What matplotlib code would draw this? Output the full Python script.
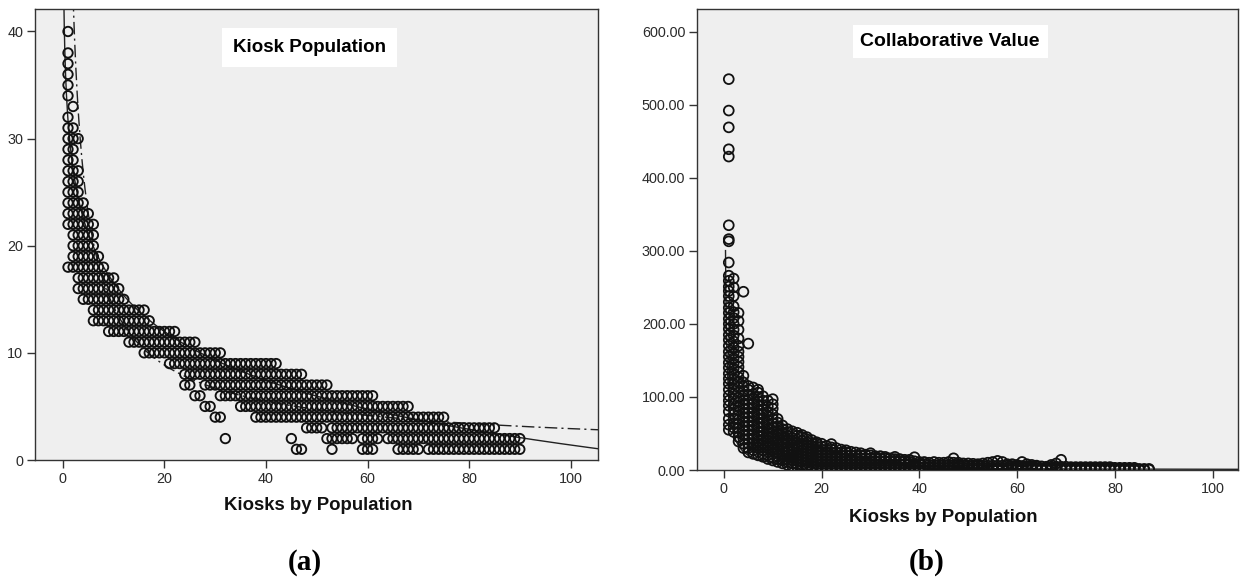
import numpy as np
import matplotlib
matplotlib.use("Agg")
import matplotlib.pyplot as plt
from matplotlib.ticker import FixedLocator, FuncFormatter

# ---------------- Data ----------------
# Panel (a): Kiosk Population (integer y) vs Kiosks by Population (integer x).
# Each row value lists runs of consecutive integer x positions that carry a point.
kp_row_y = [40, 38, 37, 36, 35, 34, 33, 32, 31, 30, 29, 28, 27, 26, 25, 24, 23, 22,
            21, 20, 19, 18, 17, 16, 15, 14, 13, 12, 11, 10, 9, 8, 7, 6, 5, 4, 3, 2, 1]
kp_row_runs = [
    [(1, 1)], [(1, 1)], [(1, 1)], [(1, 1)], [(1, 1)], [(1, 1)], [(2, 2)], [(1, 1)],
    [(1, 2)], [(1, 3)], [(1, 2)], [(1, 2)], [(1, 3)], [(1, 3)], [(1, 3)], [(1, 4)],
    [(1, 5)], [(1, 6)], [(2, 6)], [(2, 6)], [(2, 7)], [(1, 8)], [(3, 10)], [(3, 11)],
    [(4, 12)], [(6, 16)], [(6, 17)], [(9, 22)], [(13, 26)], [(16, 31)], [(21, 42)],
    [(24, 47)],
    [(24, 25), (28, 52)],
    [(26, 27), (31, 61)],
    [(28, 29), (35, 68)],
    [(30, 31), (38, 75)],
    [(48, 51), (53, 85)],
    [(32, 32), (45, 45), (52, 57), (59, 62), (64, 90)],
    [(46, 47), (53, 53), (59, 61), (66, 70), (72, 90)],
]
# Fit curves of panel (a): logarithmic (solid) and power (dash-dot)
kp_log_fit = (31.7, -6.58)      # y = a + b*ln(x)
kp_pow_fit = (69.6, -0.688)     # y = a * x**b

# Panel (b): Collaborative Value, one list of values per x = 1..87
cv_x = list(range(1, 88))
cv_cols = [
    [55, 62, 70, 80, 88, 95, 102, 110, 118, 125, 132, 140, 147, 155, 162, 170, 178, 185, 193,
     200, 207, 215, 222, 230, 238, 245, 251, 259, 266, 284, 313, 316, 335, 429, 439, 469, 492, 535],
    [52, 58, 64, 70, 76, 83, 90, 97, 104, 111, 118, 125, 132, 139, 146, 153, 160, 168, 176,
     184, 192, 200, 208, 216, 224, 238, 250, 262],
    [39, 45, 51, 57, 63, 69, 75, 81, 87, 93, 99, 106, 113, 120, 127, 134, 141, 148, 155, 162,
     170, 180, 192, 204, 215],
    [30, 36, 42, 48, 54, 60, 66, 72, 78, 84, 90, 96, 102, 108, 114, 120, 129, 244],
    [24, 30, 36, 42, 48, 54, 60, 66, 72, 78, 84, 90, 96, 103, 110, 115, 173],
    [22, 27, 32, 37, 43, 49, 55, 61, 67, 73, 79, 85, 91, 97, 104, 113],
    [20, 25, 30, 35, 40, 46, 52, 58, 64, 70, 76, 82, 88, 94, 100, 106, 110],
    [18, 22, 27, 32, 37, 42, 47, 53, 59, 65, 71, 77, 83, 89, 95, 101],
    [15, 20, 25, 30, 35, 40, 45, 50, 56, 62, 68, 74, 80, 87, 95],
    [13, 17, 22, 27, 32, 37, 42, 47, 52, 58, 64, 70, 76, 84, 90, 97],
    [11, 15, 19, 24, 29, 34, 39, 44, 49, 54, 60, 65, 70],
    [9, 13, 17, 21, 26, 31, 36, 41, 46, 51, 56, 61],
    [7, 11, 15, 19, 23, 27, 32, 37, 42, 47, 52, 56],
    [5, 9, 13, 17, 21, 25, 29, 34, 39, 44, 49, 53],
    [4, 8, 12, 16, 20, 24, 28, 32, 37, 42, 47, 51],
    [3, 7, 11, 15, 19, 23, 27, 31, 35, 40, 45, 48],
    [2, 6, 10, 14, 18, 22, 26, 30, 34, 38, 42, 45],
    [1, 5, 9, 13, 17, 21, 25, 29, 33, 37, 41],
    [0.5, 4, 8, 12, 16, 20, 24, 28, 32, 36, 38],
    [0.5, 4, 8, 12, 16, 20, 24, 28, 32, 36],
    [0.5, 4, 8, 12, 16, 20, 24, 28, 33],
    [0.5, 4, 8, 12, 16, 20, 24, 28, 31, 35.5],
    [0.5, 4, 8, 12, 16, 20, 24, 30],
    [0.5, 4, 8, 12, 16, 20, 24, 28],
    [0.5, 4, 8, 12, 16, 20, 24, 27],
    [0.5, 4, 8, 12, 16, 20, 25],
    [0.5, 4, 8, 12, 16, 20, 24],
    [0.5, 4, 8, 12, 16, 20, 23],
    [0.5, 4, 8, 12, 16, 21],
    [0.5, 4, 8, 12, 16, 20, 23],
    [0.5, 4, 8, 12, 16, 19],
    [0.5, 4, 8, 12, 16, 19],
    [0.5, 4, 8, 12, 16, 18],
    [0.5, 4, 8, 12, 16],
    [0.5, 4, 8, 12, 15, 18],
    [0.5, 4, 8, 12, 15],
    [0.5, 4, 8, 12, 14],
    [0.5, 4, 8, 11, 14],
    [0.5, 4, 8, 12, 17.5],
    [0.5, 4, 8, 11],
    [0.5, 4, 8, 11],
    [0.5, 4, 7, 10],
    [0.5, 3.5, 7, 11],
    [0.5, 3.5, 7, 10],
    [0.5, 3.5, 7, 10],
    [0.5, 3.5, 7, 11],
    [0.5, 3.5, 7, 10, 16],
    [0.5, 3.5, 7, 10],
    [0.5, 3.5, 6.5, 9],
    [0.5, 3, 6, 9],
    [0.5, 3, 6, 8.5],
    [0.5, 3, 6, 8],
    [0.5, 3, 6, 9],
    [0.5, 3, 6, 10],
    [0.5, 3, 6, 11],
    [0.5, 3, 6, 12.5],
    [0.5, 3, 6, 11],
    [0.5, 3, 6, 8],
    [0.5, 3, 5.5, 8],
    [0.5, 3, 5.5, 7],
    [0.5, 3, 5.5, 11],
    [0.5, 3, 5, 8],
    [0.5, 2.5, 5, 7],
    [0.5, 2.5, 5, 6],
    [0.5, 2.5, 5],
    [0.5, 2.5, 4.5],
    [0.5, 2.5, 4.5, 7],
    [0.5, 2.5, 4.5, 9],
    [0.5, 2.5, 4.5, 14],
    [0.5, 2.5, 4.5],
    [0.5, 2, 4], [0.5, 2, 4], [0.5, 2, 4], [0.5, 2, 4], [0.5, 2, 4],
    [0.5, 2, 4], [0.5, 2, 4], [0.5, 2, 4], [0.5, 2, 4],
    [0.5, 2, 3], [0.5, 2, 3], [0.5, 2, 3], [0.5, 2, 3], [0.5, 2, 3],
    [0.5, 1.5], [0.5, 1.5], [0.5, 1.5],
]
cv_pow_fit = (100.0, -1.0)      # y = a * x**b (solid line, panel b)

left_yticks = [0, 10, 20, 30, 40]
right_yticks = [0, 100, 200, 300, 400, 500, 600]
xticks = [0, 20, 40, 60, 80, 100]
x_label = "Kiosks by Population"
title_a = "Kiosk Population"
title_b = "Collaborative Value"
panel_tags = ["(a)", "(b)"]

# ---------------- Build point lists ----------------
kp_x, kp_y = [], []
for yv, runs in zip(kp_row_y, kp_row_runs):
    for a, b in runs:
        for xv in range(a, b + 1):
            kp_x.append(xv)
            kp_y.append(yv)

cv_px, cv_py = [], []
for xv, col in zip(cv_x, cv_cols):
    for yv in col:
        cv_px.append(xv)
        cv_py.append(yv)

# ---------------- Figure ----------------
W, H = 1241, 580
fig = plt.figure(figsize=(W / 100, H / 100), dpi=100)
fig.patch.set_facecolor("white")

BG = "#efefef"
INK = "#111111"
TXT = "#2b2b2b"
SANS = ["Liberation Sans", "DejaVu Sans"]
SERIF = ["Liberation Serif", "DejaVu Serif"]


def style_axes(ax):
    ax.set_facecolor(BG)
    for s in ax.spines.values():
        s.set_color("#333333")
        s.set_linewidth(1.0)
    ax.tick_params(axis="both", direction="out", length=6, width=1.0, color="#333333",
                   labelsize=10.4, labelcolor=TXT, pad=2.5)
    for lab in ax.get_xticklabels() + ax.get_yticklabels():
        lab.set_family(SANS)


axL = fig.add_axes([35 / W, (H - 460) / H, 563 / W, 451 / H])
axR = fig.add_axes([697 / W, (H - 470) / H, 541 / W, 461 / H])

# Panel (a)
axL.scatter(kp_x, kp_y, s=46, facecolors="none", edgecolors=INK, linewidths=1.35, zorder=3)
xs = np.linspace(0.05, 106, 2000)
axL.plot(xs, kp_log_fit[0] + kp_log_fit[1] * np.log(xs), color="#222222", lw=1.0, zorder=2)
axL.plot(xs, kp_pow_fit[0] * xs ** kp_pow_fit[1], color="#222222", lw=1.0,
         linestyle=(0, (9, 3, 1.5, 3)), zorder=2)
axL.set_xlim(-5.5, 105.4)
axL.set_ylim(0, 42.1)
axL.xaxis.set_major_locator(FixedLocator(xticks))
axL.yaxis.set_major_locator(FixedLocator(left_yticks))
axL.yaxis.set_major_formatter(FuncFormatter(lambda v, p: f"{v:.0f}"))
style_axes(axL)
axL.text(0.488, 0.915, title_a, transform=axL.transAxes, ha="center", va="center",
         fontsize=13.5, fontweight="bold", family=SANS, color="black",
         bbox=dict(facecolor="white", edgecolor="none", boxstyle="square,pad=0.6"), zorder=5)

# Panel (b)
axR.scatter(cv_px, cv_py, s=50, facecolors="none", edgecolors=INK, linewidths=1.3, zorder=3)
xr = np.linspace(0.333, 106, 2000)
axR.plot(xr, cv_pow_fit[0] * xr ** cv_pow_fit[1], color="#222222", lw=1.0, zorder=2)
axR.set_xlim(-5.5, 105.2)
axR.set_ylim(0, 631)
axR.xaxis.set_major_locator(FixedLocator(xticks))
axR.yaxis.set_major_locator(FixedLocator(right_yticks))
axR.yaxis.set_major_formatter(FuncFormatter(lambda v, p: f"{v:.2f}"))
style_axes(axR)
axR.text(0.468, 0.93, title_b, transform=axR.transAxes, ha="center", va="center",
         fontsize=14, fontweight="bold", family=SANS, color="black",
         bbox=dict(facecolor="white", edgecolor="none", boxstyle="square,pad=0.4"), zorder=5)

# Axis titles and panel tags
fig.text(318 / W, 1 - 506 / H, x_label, ha="center", va="center", fontsize=13.4,
         fontweight="bold", family=SANS, color="#111111")
fig.text(943 / W, 1 - 517 / H, x_label, ha="center", va="center", fontsize=13.4,
         fontweight="bold", family=SANS, color="#111111")
fig.text(305 / W, 1 - 562 / H, panel_tags[0], ha="center", va="center", fontsize=21,
         fontweight="bold", family=SERIF, color="black")
fig.text(927 / W, 1 - 562 / H, panel_tags[1], ha="center", va="center", fontsize=21,
         fontweight="bold", family=SERIF, color="black")

fig.savefig("out.png", dpi=100, facecolor="white")
